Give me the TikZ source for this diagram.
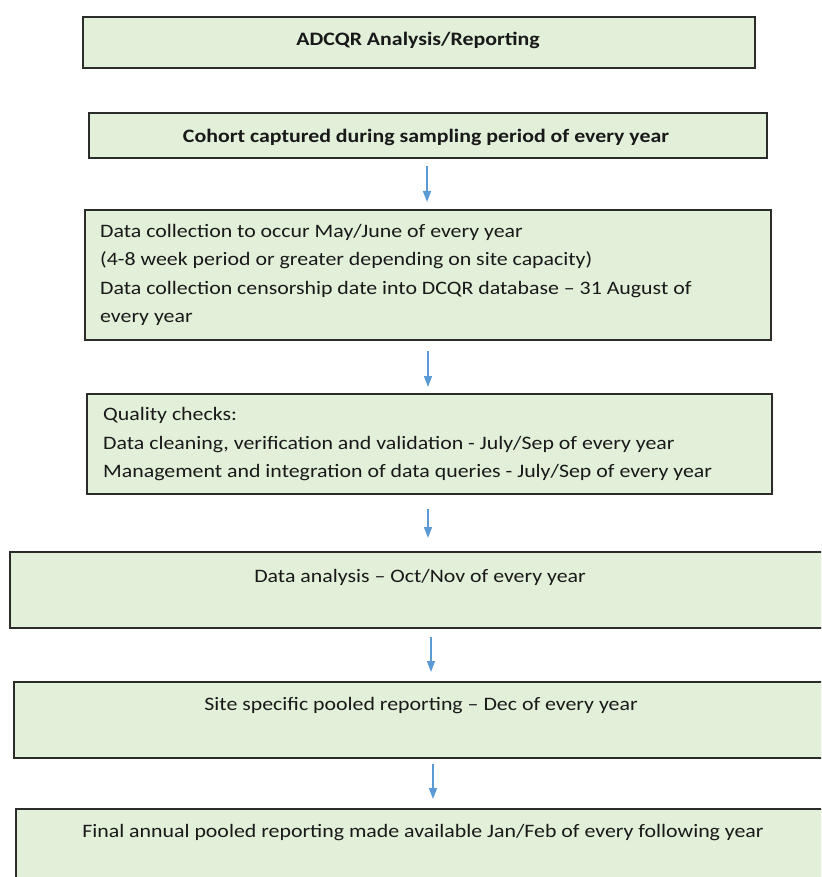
\documentclass[tikz,border=0pt]{standalone}
\usepackage{fontspec}
\setmainfont{Carlito}[FakeStretch=1.15]
\usetikzlibrary{arrows.meta}
\definecolor{boxfill}{HTML}{E2EFD9}
\definecolor{boxline}{HTML}{2B2B2B}
\definecolor{arrblue}{HTML}{5B9BD5}
\begin{document}
\begin{tikzpicture}[x=1pt,y=-1pt,
  box/.style={draw=boxline, line width=2pt, fill=boxfill, rectangle, inner sep=0pt},
  txt/.style={inner sep=0pt, font=\fontsize{19}{23}\selectfont, text=black!90},
  btxt/.style={txt, font=\fontsize{19}{23}\selectfont\bfseries},
  arr/.style={draw=arrblue, line width=1.5pt, -{Triangle[width=8pt,length=11pt]}}]
\useasboundingbox (0,0) rectangle (821,877);
\clip (0,0) rectangle (821,877);
\fill[white] (0,0) rectangle (821,877);
% boxes
\node[box, minimum width=672pt, minimum height=51pt] (b1) at (419,42.5) {};
\node[box, minimum width=678pt, minimum height=45pt] (b2) at (428,135.5) {};
\node[box, minimum width=686pt, minimum height=130pt] (b3) at (428,275) {};
\node[box, minimum width=685pt, minimum height=100pt] (b4) at (429.5,444) {};
\node[box, minimum width=842pt, minimum height=76pt] (b5) at (431,590) {};
\node[box, minimum width=838pt, minimum height=76pt] (b6) at (433,720) {};
\node[box, minimum width=836pt, minimum height=76pt] (b7) at (434,847) {};
% texts
\node[btxt, anchor=base] (t1) at (418,46) {ADCQR Analysis/Reporting};
\node[btxt, anchor=base] (t2) at (426,143) {Cohort captured during sampling period of every year};
\node[txt, anchor=base west] (t3a) at (100,237) {Data collection to occur May/June of every year};
\node[txt, anchor=base west] (t3b) at (100,265) {(4-8 week period or greater depending on site capacity)};
\node[txt, anchor=base west] (t3c) at (100,294) {Data collection censorship date into DCQR database – 31 August of};
\node[txt, anchor=base west] (t3d) at (100,322) {every year};
\node[txt, anchor=base west] (t4a) at (103,420) {Quality checks:};
\node[txt, anchor=base west] (t4b) at (103,449) {Data cleaning, verification and validation - July/Sep of every year};
\node[txt, anchor=base west] (t4c) at (103,477) {Management and integration of data queries - July/Sep of every year};
\node[txt, anchor=base] (t5) at (420,582) {Data analysis – Oct/Nov of every year};
\node[txt, anchor=base] (t6) at (421,710) {Site specific pooled reporting – Dec of every year};
\node[txt, anchor=base] (t7) at (423,837) {Final annual pooled reporting made available Jan/Feb of every following year};
% arrows
\coordinate (x1) at (427,0);
\coordinate (x2) at (428,0);
\coordinate (x3) at (428,0);
\coordinate (x4) at (431,0);
\coordinate (x5) at (433,0);
\draw[arr, shorten <=7pt, shorten >=7pt] (b2.south -| x1) -- (b3.north -| x1);
\draw[arr, shorten <=10pt, shorten >=6pt] (b3.south -| x2) -- (b4.north -| x2);
\draw[arr, shorten <=14pt, shorten >=13pt] (b4.south -| x3) -- (b5.north -| x3);
\draw[arr, shorten <=8pt, shorten >=9pt] (b5.south -| x4) -- (b6.north -| x4);
\draw[arr, shorten <=5pt, shorten >=9pt] (b6.south -| x5) -- (b7.north -| x5);
\end{tikzpicture}
\end{document}
